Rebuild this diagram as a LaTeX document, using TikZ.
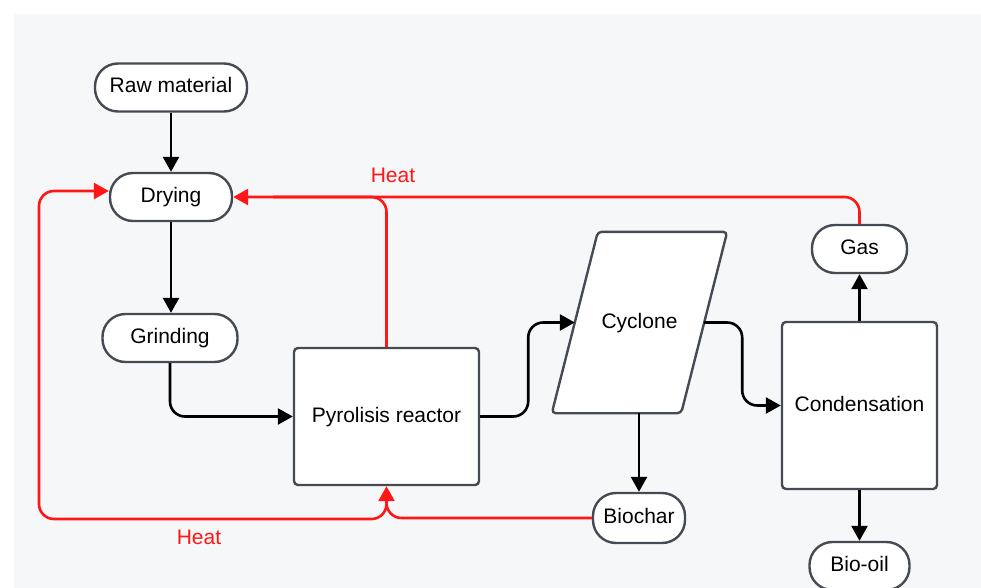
\documentclass[tikz,border=0pt]{standalone}
\usepackage{fontspec}
\setmainfont{Liberation Sans}
\usetikzlibrary{arrows.meta,calc}
\definecolor{bg}{RGB}{246,247,248}
\definecolor{edgec}{RGB}{70,74,82}
\definecolor{heatred}{RGB}{255,22,22}
\begin{document}
\begin{tikzpicture}[x=1pt,y=-1pt,
  font=\fontsize{21}{24}\selectfont,
  txt/.style={text height=15pt, text depth=4pt},
  pill/.style={txt, draw=edgec, fill=white, line width=2.4pt, rounded corners=23pt, minimum height=48pt, inner sep=0pt},
  box/.style={txt, draw=edgec, fill=white, line width=2.4pt, rounded corners=4pt, inner sep=0pt},
  cyclonebox/.style={inner sep=0pt, minimum width=129pt, minimum height=181pt},
  cycloneshape/.style={draw=edgec, fill=white, line width=2.4pt, rounded corners=4pt},
  flow/.style={line width=2.6pt, black, -{Triangle[length=15pt,width=16pt]}, rounded corners=15pt},
  heat/.style={line width=2.6pt, heatred, rounded corners=15pt},
  heatarrow/.style={heat, -{Triangle[length=15pt,width=16pt]}},
  heatlabel/.style={txt, text=heatred, inner sep=0pt}]
\fill[white] (0,0) rectangle (981,588);
\fill[bg] (14,14) rectangle (981,588);
\useasboundingbox (0,0) rectangle (981,588);

\node[pill, minimum width=152pt] (raw) at (171,87.5) {Raw material};
\node[pill, minimum width=122pt] (dry) at (171,197) {Drying};
\node[pill, minimum width=135pt] (grind) at (170,338) {Grinding};
\node[box, minimum width=185pt, minimum height=137pt] (reac) at (386.5,416.5) {Pyrolisis reactor};
\node[cyclonebox] (cyc) at (639.5,322.5) {};
\draw[cycloneshape] ($(cyc.south west)+(-23,0)$) -- ($(cyc.south east)+(-23,0)$)
   -- ($(cyc.north east)+(23,0)$) -- ($(cyc.north west)+(23,0)$) -- cycle;
\node[txt, inner sep=0pt] (cyctext) at (cyc.center) {Cyclone};
\node[box, minimum width=155pt, minimum height=167pt] (cond) at (859.5,405.5) {Condensation};
\node[pill, minimum width=95pt] (gas) at (859.5,249) {Gas};
\node[pill, minimum width=92pt, minimum height=50pt] (bioc) at (639,518) {Biochar};
\node[pill, minimum width=100pt] (oil) at (859.5,566) {Bio-oil};

\node[heatlabel] (h1) at (393,177) {Heat};
\node[heatlabel] (h2) at (199,539) {Heat};

% process flow
\draw[flow] (raw) -- (dry);
\draw[flow] (dry.south) -- (dry.south |- grind.north);
\draw[flow] (grind.south) |- (reac.west);
\draw[flow] (reac.east) -- ++(48,0) |- (cyc.west);
\draw[flow] (cyc.east) -- ++(38,0) |- (cond.west);
\draw[flow] (cyc.south -| bioc.north) -- (bioc.north);
\draw[flow] (cond.north) -- (gas.south);
\draw[flow] (cond.south) -- (oil.north);

% heat recovery
\draw[heat] (reac.north) |- ($(dry.east)+(40,0)$);
\draw[heatarrow] (gas.north) |- (dry.east);
\draw[heatarrow] (bioc.west) -| (reac.south);
\draw[heatarrow] ($(reac.south)+(0,18)$) |- (39,519) |- ($(dry.west)+(0,-6)$);
\end{tikzpicture}
\end{document}
